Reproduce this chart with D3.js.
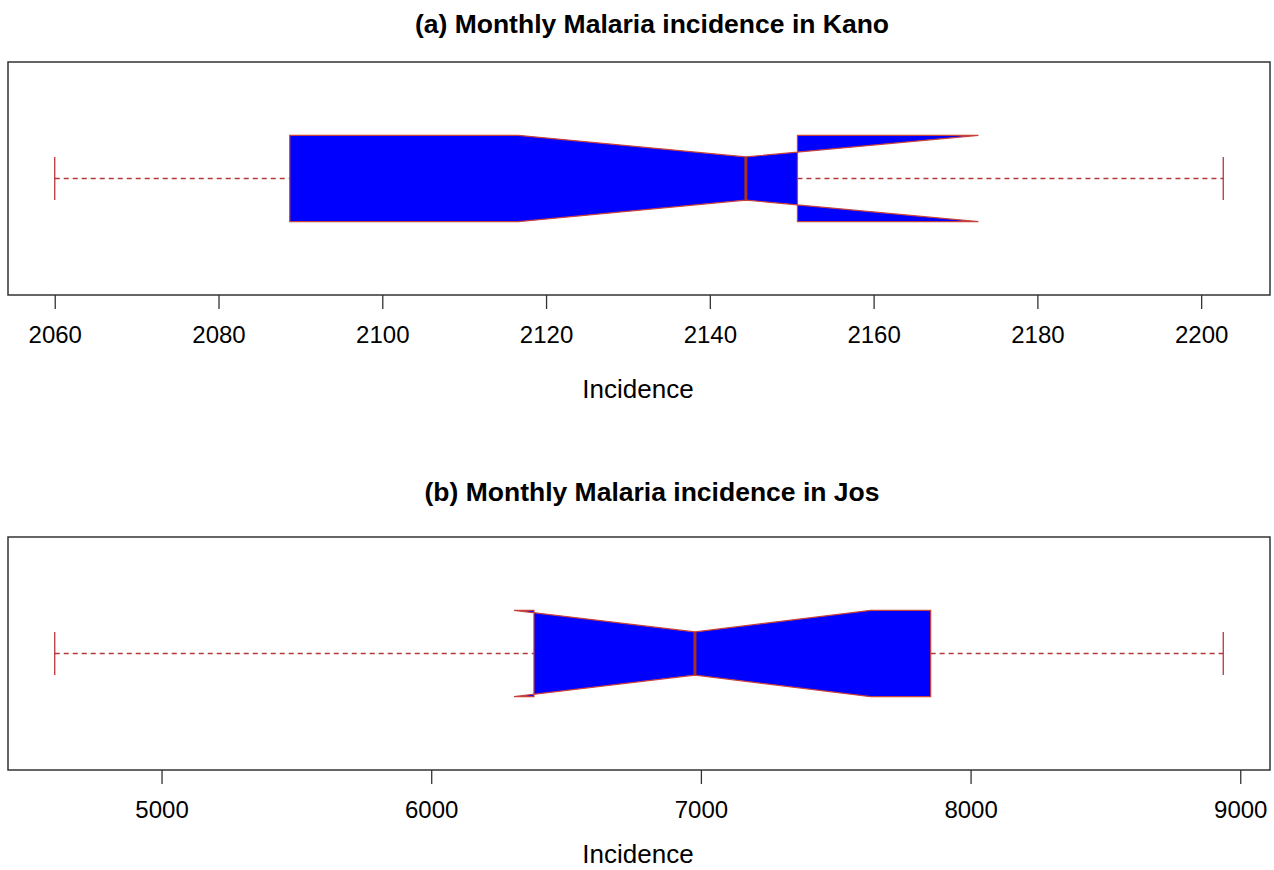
<!DOCTYPE html>
<html>
<head>
<meta charset="utf-8">
<script src="https://cdn.jsdelivr.net/npm/d3@7"></script>
<style>
  body { margin: 0; background: #fff; }
  text { font-family: "Liberation Sans", Arial, sans-serif; }
</style>
</head>
<body>
<svg width="1274" height="870"></svg>
<script>
var svg = d3.select("svg");

// panel titles
var titles = ["(a) Monthly Malaria incidence in Kano", "(b) Monthly Malaria incidence in Jos"];
// five-number summaries: min, Q1, median, Q3, max
var kanoStats = [2060, 2088.7, 2144.4, 2150.7, 2202.7];
var josStats = [4604, 6381, 6978, 7852, 8937];
// notch limits (median +/- 1.58 IQR / sqrt(n))
var kanoNotch = [2116.6, 2172.8];
var josNotch = [6307, 7630];
// axis ticks
var kanoTicks = [2060, 2080, 2100, 2120, 2140, 2160, 2180, 2200];
var josTicks = [5000, 6000, 7000, 8000, 9000];

var panels = [
    {title: titles[0], stats: kanoStats, notch: kanoNotch, ticks: kanoTicks, top: 62, titleY: 33, labelY: 398},
    {title: titles[1], stats: josStats, notch: josNotch, ticks: josTicks, top: 537, titleY: 501, labelY: 863}
];

var left = 8, right = 1270, plotH = 233;
var borderCol = "#c8403a", whiskCol = "#b5383a", medCol = "#a8301f";

panels.forEach(function(p) {
    var lo = p.stats[0], hi = p.stats[4], pad = (hi - lo) * 0.04;
    var x = d3.scaleLinear().domain([lo - pad, hi + pad]).range([left, right]);
    var y = d3.scaleLinear().domain([0.46, 1.54]).range([p.top + plotH, p.top]);

    var g = svg.append("g");

    g.append("text")
        .attr("x", 652)
        .attr("y", p.titleY)
        .attr("text-anchor", "middle")
        .attr("font-size", 26.5)
        .attr("font-weight", "bold")
        .text(p.title);

    // whiskers
    var s = p.stats;
    [[s[0], s[1]], [s[3], s[4]]].forEach(function(w) {
        g.append("line")
            .attr("x1", x(w[0])).attr("x2", x(w[1]))
            .attr("y1", y(1)).attr("y2", y(1))
            .attr("stroke", whiskCol)
            .attr("stroke-width", 1.5)
            .attr("stroke-dasharray", "5,4");
    });
    [s[0], s[4]].forEach(function(v) {
        g.append("line")
            .attr("x1", x(v)).attr("x2", x(v))
            .attr("y1", y(0.9)).attr("y2", y(1.1))
            .attr("stroke", whiskCol)
            .attr("stroke-width", 1.3);
    });

    // notched box, R style polygon (folds back when notch exceeds hinge)
    var w = 0.2, wn = 0.1;
    var pts = [
        [s[1], 1 + w], [p.notch[0], 1 + w], [s[2], 1 + wn], [p.notch[1], 1 + w], [s[3], 1 + w],
        [s[3], 1 - w], [p.notch[1], 1 - w], [s[2], 1 - wn], [p.notch[0], 1 - w], [s[1], 1 - w]
    ];
    g.append("path")
        .attr("d", d3.line().x(function(d) { return x(d[0]); }).y(function(d) { return y(d[1]); })(pts) + "Z")
        .attr("fill", "#0000ff")
        .attr("stroke", borderCol)
        .attr("stroke-width", 1.2)
        .attr("stroke-linejoin", "miter");

    // median
    g.append("line")
        .attr("x1", x(s[2])).attr("x2", x(s[2]))
        .attr("y1", y(1 + wn)).attr("y2", y(1 - wn))
        .attr("stroke", medCol)
        .attr("stroke-width", 3);

    // frame
    g.append("rect")
        .attr("x", left).attr("y", p.top)
        .attr("width", right - left).attr("height", plotH)
        .attr("fill", "none")
        .attr("stroke", "#333")
        .attr("stroke-width", 1.5);

    // axis
    var axis = g.append("g")
        .attr("transform", "translate(0," + (p.top + plotH) + ")")
        .call(d3.axisBottom(x).tickValues(p.ticks).tickFormat(d3.format("d")).tickSize(14).tickPadding(17));
    axis.select(".domain").remove();
    axis.selectAll(".tick line").attr("stroke", "#333").attr("stroke-width", 1.3);
    axis.selectAll(".tick text")
        .attr("font-size", 24)
        .attr("fill", "#000")
        .style("font-family", "Liberation Sans, Arial, sans-serif");

    g.append("text")
        .attr("x", 638)
        .attr("y", p.labelY)
        .attr("text-anchor", "middle")
        .attr("font-size", 26)
        .text("Incidence");
});
</script>
</body>
</html>
